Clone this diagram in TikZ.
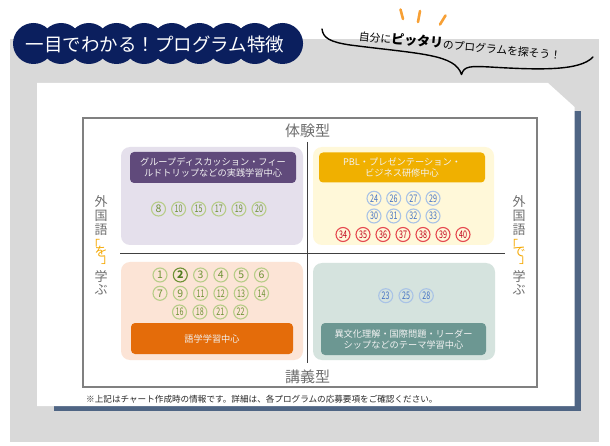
\documentclass[tikz,border=0pt]{standalone}
\usepackage{fontspec}
\usepackage{graphicx}
\newfontfamily\jp{Noto Sans CJK JP}
\definecolor{bggray}{HTML}{D9D9D9}
\definecolor{shadowc}{HTML}{4F6584}
\definecolor{framegray}{HTML}{808080}
\definecolor{lpurple}{HTML}{E5E0EC}
\definecolor{dpurple}{HTML}{604A7B}
\definecolor{lyellow}{HTML}{FFF8D9}
\definecolor{dyellow}{HTML}{F0B000}
\definecolor{lpeach}{HTML}{FCE4D6}
\definecolor{dorange}{HTML}{E46C0A}
\definecolor{lteal}{HTML}{D5E3DE}
\definecolor{dteal}{HTML}{6C9792}
\definecolor{navyc}{HTML}{0B1F5E}
\definecolor{axgray}{HTML}{6F6F6F}
\definecolor{orngc}{HTML}{F5A800}
\definecolor{rayc}{HTML}{F7A035}
\definecolor{cgtext}{HTML}{6E9235}
\definecolor{cgring}{HTML}{B7CD88}
\definecolor{cgdark}{HTML}{4F7A1E}
\definecolor{cbtext}{HTML}{4472C4}
\definecolor{cbring}{HTML}{A9C3E6}
\definecolor{crtext}{HTML}{C00018}
\definecolor{crring}{HTML}{E5484F}
\newcommand\cnx[1]{\ifnum#1>9 \scalebox{0.68}[1]{#1}\else #1\fi}
\newcommand\jpsize[1]{\jp\fontsize{#1}{#1}\selectfont}
\tikzset{
  qbox/.style={rounded corners=9pt, inner sep=0pt},
  hbox/.style={rounded corners=4pt, inner sep=0pt, text=white!95!black, align=center,
    font=\jp\fontsize{9.2}{11}\selectfont},
  axisline/.style={draw=black!75, line width=0.9pt},
  axlab/.style={text=axgray, font=\jpsize{15}, inner sep=0pt},
  vchar/.style={text=axgray, font=\jpsize{13}, inner sep=0pt},
  vorange/.style={vchar, text=orngc},
  vbracket/.style={vorange, font=\jpsize{12}},
  cnum/.style={circle, line width=1.1pt, inner sep=0pt, minimum size=14pt, font=\jpsize{10.5}},
  cg/.style={cnum, draw=cgring, text=cgtext},
  cb/.style={cnum, draw=cbring, text=cbtext},
  cr/.style={cnum, draw=crring, text=crtext},
  ray/.style={draw=rayc, line width=2.6pt, line cap=round}
}
\begin{document}
\begin{tikzpicture}[x=1pt,y=-1pt]
\useasboundingbox (0,0) rectangle (610,446);
% background panels
\fill[bggray] (10,39) rectangle (599,442);
\fill[shadowc] (54,111) rectangle (581,411);
\fill[white] (37,83) -- (548,83) -- (574.5,107) -- (574.5,406) -- (37,406) -- cycle;
\draw[framegray, line width=2.5pt] (83.2,118.2) rectangle (536.8,386.8);
% title
\foreach \i in {0,...,9}{
  \fill[navyc] ({33.5+27.67*\i},43.5) circle (20.5);
}
\node[text=white, font=\jpsize{18.5}, inner sep=0pt] (title) at (155,44) {一目でわかる！プログラム特徴};
% speech brace
\coordinate (b1) at (322,29);
\coordinate (b2) at (461.5,74.5);
\coordinate (b3) at (593,57);
\draw[black, line width=1.4pt, line cap=round, line join=round]
  (b1) .. controls (323,38) and (330,42) .. (350,45)
  .. controls (420,54) and (455,54) .. (b2)
  .. controls (464,66) and (470,66) .. (490,67)
  .. controls (540,70) and (580,71) .. (b3);
\draw[ray] (400.5,9.5) -- (403,19);
\draw[ray] (420,11) -- (418,22);
\draw[ray] (445.5,15.5) -- (440,24.5);
\node[rotate=-5.5, inner sep=0pt, font=\jpsize{10.8}] (say) at (460,45)
  {自分に{\jpsize{13}\bfseries ピッタリ}のプログラムを探そう！};
% axes
\coordinate (vt) at (307,142);
\coordinate (vb) at (307,363);
\coordinate (hl) at (120,253);
\coordinate (hr) at (505,253);
\draw[axisline] (vt) -- (vb);
\draw[axisline] (hl) -- (hr);
\node[axlab] (toplab) at (307.5,131) {体験型};
\node[axlab] (botlab) at (307.5,377) {講義型};
% quadrants
\node[qbox, fill=lpurple, minimum width=182pt, minimum height=98pt] (q1) at (212,196) {};
\node[qbox, fill=lyellow, minimum width=181pt, minimum height=98pt] (q2) at (403.5,196) {};
\node[qbox, fill=lpeach, minimum width=182pt, minimum height=98pt] (q3) at (212,311) {};
\node[qbox, fill=lteal, minimum width=182pt, minimum height=97pt] (q4) at (404,311.5) {};
\node[hbox, fill=dpurple, minimum width=166pt, minimum height=31pt] (h1) at (213,167.5)
  {グループディスカッション・フィー\\ルドトリップなどの実践学習中心};
\node[hbox, fill=dyellow, minimum width=166pt, minimum height=30pt] (h2) at (402,167.5)
  {PBL・プレゼンテーション・\\ビジネス研修中心};
\node[hbox, fill=dorange, minimum width=162pt, minimum height=31pt] (h3) at (212,338.5)
  {語学学習中心};
\node[hbox, fill=dteal, minimum width=165pt, minimum height=32pt] (h4) at (403.5,339)
  {異文化理解・国際問題・リーダー\\シップなどのテーマ学習中心};
% numbers
\foreach \n/\x in {8/158.5,10/178.6,15/198.7,17/218.8,19/238.9,20/259}
  \node[cg] (n\n) at (\x,209) {\cnx{\n}};
\foreach \n/\x in {24/374,26/393.7,27/413.4,29/433}
  \node[cb] (n\n) at (\x,198.3) {\cnx{\n}};
\foreach \n/\x in {30/374,31/393.7,32/413.4,33/433}
  \node[cb] (n\n) at (\x,216) {\cnx{\n}};
\foreach \n/\x in {34/343,35/363,36/383,37/403,38/423,39/443,40/463}
  \node[cr] (n\n) at (\x,234.5) {\cnx{\n}};
\foreach \n/\x in {1/160,3/200.6,4/220.9,5/241.2,6/261.5}
  \node[cg] (n\n) at (\x,275) {\cnx{\n}};
\node[cnum, draw=cgtext, text=cgdark, font=\jpsize{10.5}\bfseries] (n2) at (180.3,275) {2};
\foreach \n/\x in {7/160,9/180.3,11/200.6,12/220.9,13/241.2,14/261.5}
  \node[cg] (n\n) at (\x,293.3) {\cnx{\n}};
\foreach \n/\x in {16/179.5,18/199.9,21/220.3,22/240.7}
  \node[cg] (n\n) at (\x,312) {\cnx{\n}};
\foreach \n/\x in {23/385.7,25/406,28/426.3}
  \node[cb] (n\n) at (\x,295.7) {\cnx{\n}};
% vertical side labels
\foreach \s/\xx in {L/101,R/519}{
  \node[vchar] (\s a) at (\xx,202) {外};
  \node[vchar] (\s b) at (\xx,216) {国};
  \node[vchar] (\s c) at (\xx,230) {語};
  \node[vbracket] (\s d) at ({\xx-7},244) {「};
  \node[vbracket] (\s f) at ({\xx+6},261) {」};
  \node[vchar] (\s g) at (\xx,277) {学};
  \node[vchar] (\s h) at (\xx,290) {ぶ};
}
\node[vorange] (Le) at (101,252) {を};
\node[vorange] (Re) at (519,252) {で};
% footnote
\node[anchor=west, inner sep=0pt, text=black!85, font=\jpsize{8.6}] (note) at (86,399)
  {※上記はチャート作成時の情報です。詳細は、各プログラムの応募要項をご確認ください。};
\end{tikzpicture}
\end{document}
